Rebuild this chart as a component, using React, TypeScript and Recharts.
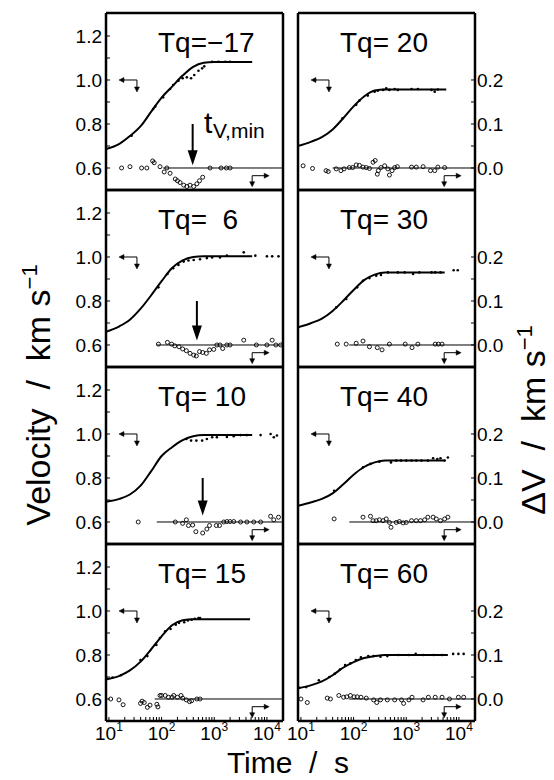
import React from "react";
import { ComposedChart, Line, Scatter, XAxis, YAxis, ReferenceDot, ReferenceLine } from "recharts";

type Pair = [number, number];

const FONT = "'Liberation Sans', Arial, Helvetica, sans-serif";

// axes
const timeDomain: [number, number] = [8.8, 20200];
const timeTicks = [10, 20, 30, 40, 50, 60, 70, 80, 90, 100, 200, 300, 400, 500, 600, 700, 800, 900,
  1000, 2000, 3000, 4000, 5000, 6000, 7000, 8000, 9000, 10000];
const velDomain: [number, number] = [0.5, 1.3045];
const velTicks = [0.6, 0.7, 0.8, 0.9, 1.0, 1.1, 1.2];
const velLabelTicks = [0.6, 0.8, 1.0, 1.2];
const dvDomain: [number, number] = [-0.05, 0.35225];
const dvTicks = [0, 0.05, 0.1, 0.15, 0.2];
const dvLabelTicks = [0, 0.1, 0.2];

const panelLabels = ["Tq=\u221217", "Tq= 20", "Tq=  6", "Tq= 30", "Tq= 10", "Tq= 40", "Tq= 15", "Tq= 60"];

// Tq = -17
const curveM17: Pair[] = [[8.8, 0.686], [15.8, 0.71], [25, 0.745], [40, 0.79], [63, 0.855], [100, 0.92], [158, 0.97], [251, 1.02], [398, 1.06], [631, 1.078], [1000, 1.082], [5250, 1.082]];
const velM17: Pair[] = [[26.9, 0.747], [69.2, 0.868], [75.9, 0.88], [107, 0.921], [145, 0.959], [166, 0.977], [209, 0.997], [251, 1.008], [302, 1.012], [363, 1.008], [417, 1.023], [501, 1.042], [589, 1.053], [646, 1.062], [912, 1.083], [1202, 1.083], [1622, 1.083], [1995, 1.083]];
const dvM17: Pair[] = [[17.4, 0.0], [25.1, 0.003], [41.7, 0.0], [52.5, 0.0], [67.6, 0.016], [72.4, 0.012], [93.3, 0.003], [112, -0.009], [126, 0.0], [145, -0.012], [182, -0.025], [200, -0.029], [224, -0.033], [263, -0.039], [302, -0.042], [347, -0.039], [407, -0.042], [468, -0.036], [525, -0.029], [603, -0.021], [832, 0.0], [1349, 0.0], [1698, 0.0], [1995, 0.0]];

// Tq = 20
const curve20: Pair[] = [[8.8, 0.70], [15.8, 0.72], [25, 0.74], [40, 0.775], [63, 0.825], [100, 0.88], [158, 0.925], [251, 0.952], [398, 0.957], [5750, 0.957]];
const vel20: Pair[] = [[61.7, 0.826], [112, 0.887], [129, 0.906], [186, 0.929], [251, 0.947], [288, 0.951], [363, 0.955], [417, 0.962], [479, 0.955], [603, 0.959], [692, 0.955], [1259, 0.959], [1660, 0.959], [3020, 0.955], [3467, 0.947], [3981, 0.957]];
const dv20: Pair[] = [[11, 0.005], [16.6, -0.001], [30, -0.006], [33, -0.008], [46.8, -0.002], [57.5, -0.006], [66, -0.002], [83, 0.001], [96, 0.001], [112, 0.007], [129, 0.006], [151, 0.002], [174, 0.001], [200, -0.001], [234, 0.013], [257, 0.017], [282, -0.014], [295, -0.006], [331, 0.001], [389, 0.005], [447, -0.002], [479, -0.016], [537, -0.006], [603, 0.001], [676, 0.003], [1259, 0.002], [1549, 0.002], [2089, 0.003], [2884, -0.006], [3467, -0.006], [3981, 0.002], [5370, 0.001]];

// Tq = 6
const curve6: Pair[] = [[8.8, 0.66], [15.8, 0.685], [25, 0.715], [40, 0.765], [63, 0.825], [100, 0.89], [158, 0.95], [251, 0.985], [398, 1.0], [631, 1.003], [5250, 1.003]];
const vel6: Pair[] = [[87, 0.862], [129, 0.923], [166, 0.949], [209, 0.964], [263, 0.979], [324, 0.984], [407, 0.986], [537, 0.99], [724, 0.995], [912, 0.998], [1288, 0.998], [1738, 1.006], [3631, 1.021], [6026, 1.006], [10000, 1.003], [12589, 1.003], [16596, 1.003]];
const dv6: Pair[] = [[87, 0.002], [129, 0.006], [155, 0.002], [178, -0.002], [214, -0.004], [251, -0.009], [295, -0.013], [347, -0.019], [407, -0.023], [457, -0.025], [525, -0.015], [603, -0.017], [708, -0.019], [813, -0.011], [977, -0.01], [1122, 0.0], [1288, 0.0], [1445, -0.008], [1738, 0.0], [1995, 0.0], [3631, 0.011], [6310, 0.0], [10000, 0.0], [12589, 0.011], [14791, 0.0], [18197, 0.0]];

// Tq = 30
const curve30: Pair[] = [[8.8, 0.68], [15.8, 0.70], [25, 0.72], [40, 0.755], [63, 0.80], [100, 0.85], [158, 0.895], [251, 0.92], [398, 0.93], [5370, 0.93]];
const vel30: Pair[] = [[46.8, 0.771], [72.4, 0.809], [117, 0.862], [151, 0.892], [200, 0.904], [269, 0.915], [331, 0.918], [447, 0.93], [692, 0.93], [933, 0.93], [1349, 0.923], [1778, 0.93], [3020, 0.93], [3548, 0.93], [4467, 0.93], [7943, 0.94], [9500, 0.94]];
const dv30: Pair[] = [[49, 0.002], [72.4, 0.002], [112, 0.004], [151, 0.009], [200, -0.004], [282, -0.006], [347, -0.011], [479, 0.002], [955, 0.002], [1288, -0.006], [1660, 0.002], [3548, 0.002], [4074, 0.002], [4786, 0.002]];

// Tq = 10
const curve10: Pair[] = [[8.8, 0.692], [15.8, 0.705], [25, 0.725], [40, 0.765], [63, 0.83], [100, 0.90], [158, 0.94], [251, 0.972], [398, 0.99], [631, 0.995], [5250, 0.995]];
const vel10: Pair[] = [[295, 0.977], [363, 0.97], [457, 0.97], [589, 0.97], [724, 0.977], [912, 0.985], [1122, 0.985], [1738, 0.986], [2344, 0.99], [3162, 0.995], [4169, 0.995], [7586, 0.995], [11749, 1.0], [13490, 0.985], [15488, 0.993]];
const dv10: Pair[] = [[36, 0.0], [182, 0.0], [251, -0.003], [295, 0.005], [324, -0.008], [389, -0.007], [447, -0.022], [603, -0.025], [724, -0.016], [813, -0.008], [1096, -0.008], [1259, -0.008], [1514, 0.0], [1738, 0.001], [1995, 0.001], [2344, 0.001], [3162, 0.0], [4169, 0.0], [5623, 0.0], [7586, 0.0], [11749, 0.013], [13490, 0.005], [16596, 0.011]];

// Tq = 40
const curve40: Pair[] = [[8.8, 0.674], [15.8, 0.69], [25, 0.705], [40, 0.73], [63, 0.77], [100, 0.815], [158, 0.85], [251, 0.871], [398, 0.879], [5370, 0.879]];
const vel40: Pair[] = [[42.7, 0.742], [151, 0.849], [209, 0.864], [309, 0.874], [513, 0.871], [646, 0.879], [794, 0.879], [1000, 0.879], [1259, 0.879], [1549, 0.879], [1950, 0.879], [2570, 0.879], [3236, 0.89], [3890, 0.886], [4467, 0.89], [5370, 0.879], [6166, 0.893]];
const dv40: Pair[] = [[42.7, 0.007], [151, 0.011], [209, 0.013], [234, 0.003], [269, 0.003], [309, 0.005], [363, 0.003], [417, 0.007], [479, -0.001], [513, -0.012], [646, -0.001], [741, 0.001], [871, -0.002], [1000, -0.001], [1259, 0.003], [1549, 0.003], [1862, 0.003], [2239, 0.005], [2570, 0.011], [3236, 0.011], [3715, 0.007], [4467, 0.003], [5370, 0.007], [6166, 0.011]];

// Tq = 15
const curve15: Pair[] = [[8.8, 0.689], [15.8, 0.705], [25, 0.73], [40, 0.77], [63, 0.825], [100, 0.885], [158, 0.935], [251, 0.958], [398, 0.963], [4786, 0.963]];
const vel15: Pair[] = [[9.3, 0.692], [11.7, 0.697], [17, 0.708], [39.8, 0.777], [53.7, 0.795], [79.4, 0.846], [93.3, 0.877], [117, 0.908], [148, 0.918], [186, 0.938], [214, 0.946], [269, 0.949], [316, 0.957], [372, 0.96], [427, 0.965], [501, 0.968], [537, 0.968]];
const dv15: Pair[] = [[10.8, 0.0], [15.5, -0.002], [18.6, -0.013], [39.8, -0.01], [42.7, -0.005], [46.8, -0.008], [53.7, -0.019], [60.3, -0.014], [81.3, -0.012], [85.1, -0.018], [93.3, 0.008], [100, 0.008], [117, 0.008], [135, 0.004], [158, 0.004], [170, 0.008], [200, 0.004], [234, 0.008], [251, 0.002], [295, -0.002], [339, -0.006], [372, -0.004], [468, 0.0], [537, 0.0]];

// Tq = 60
const curve60: Pair[] = [[8.8, 0.649], [15.8, 0.663], [25, 0.68], [40, 0.708], [63, 0.742], [100, 0.768], [158, 0.786], [251, 0.795], [398, 0.80], [6166, 0.80]];
const vel60: Pair[] = [[9.3, 0.651], [12.6, 0.654], [21.9, 0.685], [34.7, 0.70], [43.7, 0.715], [55, 0.734], [69, 0.754], [87, 0.762], [110, 0.777], [138, 0.789], [190, 0.795], [240, 0.795], [324, 0.792], [437, 0.795], [708, 0.80], [1122, 0.80], [1514, 0.805], [2089, 0.80], [3311, 0.80], [4786, 0.80], [7762, 0.805], [9772, 0.805], [12303, 0.805]];
const dv60: Pair[] = [[10, 0.0], [13.2, -0.008], [31.6, 0.002], [36.3, 0.0], [52.5, 0.008], [64.6, 0.004], [74.1, 0.005], [87, 0.008], [102, 0.005], [117, 0.005], [138, 0.004], [174, 0.002], [240, -0.002], [275, -0.008], [324, -0.002], [437, -0.002], [603, -0.002], [813, -0.002], [891, -0.01], [1122, -0.002], [1288, 0.004], [2089, -0.002], [2630, 0.004], [3548, 0.004], [4786, 0.004], [6607, 0.0], [9772, 0.004], [12303, 0.004]];

// start of the dV = 0 reference line, and t(V,min) arrows
const zeroFrom = [107, 40, 81, 83, 81, 83, 74, 81];
const tMin: (number | null)[] = [389, null, 468, null, 603, null, null, null];
const tMinTip: (number | null)[] = [0.612, null, 0.62, null, 0.63, null, null, null];

// legend arrows anchor (time, velocity)
const velArrowAt = { t: 15.5, v: 1.0 };
const dvArrowAt = { t: 5250, v: 0.565 };

const curves = [curveM17, curve20, curve6, curve30, curve10, curve40, curve15, curve60];
const vels = [velM17, vel20, vel6, vel30, vel10, vel40, vel15, vel60];
const dvs = [dvM17, dv20, dv6, dv30, dv10, dv40, dv15, dv60];

const ROW_TOPS = [13, 190, 367, 544];
const PLOT = 177;

const rows = (pairs: Pair[], key: string) => pairs.map(([t, y]) => ({ t, [key]: y }));

const SmallDot = (props: any) => <circle cx={props.cx} cy={props.cy} r={1.3} fill="#000" />;
const OpenDot = (props: any) => <circle cx={props.cx} cy={props.cy} r={2} fill="none" stroke="#000" strokeWidth={0.9} />;

const VelArrow = (props: any) => {
  const { cx, cy } = props;
  return (
    <g stroke="#000" strokeWidth={1} fill="#000">
      <line x1={cx + 2} y1={cy} x2={cx + 18} y2={cy} />
      <line x1={cx + 18} y1={cy} x2={cx + 18} y2={cy + 9} />
      <polygon points={`${cx},${cy} ${cx + 5},${cy - 2.5} ${cx + 5},${cy + 2.5}`} strokeWidth={0.5} />
      <polygon points={`${cx + 18},${cy + 12} ${cx + 15.5},${cy + 7} ${cx + 20.5},${cy + 7}`} strokeWidth={0.5} />
    </g>
  );
};

const DvArrow = (props: any) => {
  const { cx, cy } = props;
  return (
    <g stroke="#000" strokeWidth={1} fill="#000">
      <line x1={cx} y1={cy} x2={cx} y2={cy + 8} />
      <line x1={cx} y1={cy} x2={cx + 14} y2={cy} />
      <polygon points={`${cx},${cy + 11} ${cx - 2.5},${cy + 6} ${cx + 2.5},${cy + 6}`} strokeWidth={0.5} />
      <polygon points={`${cx + 17},${cy} ${cx + 12},${cy - 2.5} ${cx + 12},${cy + 2.5}`} strokeWidth={0.5} />
    </g>
  );
};

const TminArrow = (props: any) => {
  const { x1, y1, x2, y2 } = props;
  const head = 15;
  return (
    <g>
      <line x1={x1} y1={y1} x2={x2} y2={y2 - head + 2} stroke="#000" strokeWidth={2} />
      <polygon points={`${x2 - 5},${y2 - head} ${x2 + 5},${y2 - head} ${x2},${y2}`} fill="#000" />
    </g>
  );
};

const PowTick = (props: any) => {
  const { x, y, payload } = props;
  const e = Math.log10(payload.value);
  if (Math.abs(e - Math.round(e)) > 1e-6) return <g />;
  return (
    <text x={x} y={y + 19} textAnchor="middle" fontFamily={FONT} fontSize={19} fill="#000">
      10<tspan dy={-9} fontSize={12}>{Math.round(e)}</tspan>
    </text>
  );
};

const axisLine = { stroke: "#000", strokeWidth: 2.5 };
const tickLine = { stroke: "#000", strokeWidth: 1 };

function Panel({ i }: { i: number }) {
  const col = i % 2;
  const row = Math.floor(i / 2);
  const isLeft = col === 0;
  const isBottom = row === 3;
  const leftW = isLeft ? 106 : 22;
  const rightW = isLeft ? 22 : 79;
  const botH = isBottom ? 40 : 10;
  const width = leftW + PLOT + rightW;
  const height = 10 + PLOT + botH;
  const x0 = isLeft ? 0 : 298 - leftW;
  const y0 = ROW_TOPS[row] - 10;
  const zero = [{ t: zeroFrom[i], dv: 0 }, { t: timeDomain[1], dv: 0 }];
  const tm = tMin[i];

  return (
    <div style={{ position: "absolute", left: x0, top: y0, width, height }}>
      <ComposedChart width={width} height={height} margin={{ top: 0, right: 0, bottom: 0, left: 0 }}>
        <XAxis xAxisId="b" dataKey="t" type="number" scale="log" domain={timeDomain} allowDataOverflow
          ticks={timeTicks} interval={0} orientation="bottom" height={botH}
          tickSize={-4} tickMargin={4} axisLine={axisLine} tickLine={tickLine}
          tick={isBottom ? <PowTick /> : false} />
        <XAxis xAxisId="top" dataKey="t" type="number" scale="log" domain={timeDomain} allowDataOverflow
          ticks={timeTicks} interval={0} orientation="top" height={10}
          tickSize={-4} axisLine={axisLine} tickLine={tickLine} tick={false} />
        <YAxis yAxisId="v" dataKey="v" type="number" domain={velDomain} allowDataOverflow
          ticks={velTicks} interval={0} orientation="left" width={leftW}
          tickSize={-4} tickMargin={8} axisLine={axisLine} tickLine={tickLine}
          tick={isLeft ? { fill: "#000", fontSize: 19, fontFamily: FONT } : false}
          tickFormatter={(v: number) => (velLabelTicks.some((m) => Math.abs(m - v) < 1e-6) ? v.toFixed(1) : "")} />
        <YAxis yAxisId="dv" dataKey="dv" type="number" domain={dvDomain} allowDataOverflow
          ticks={dvTicks} interval={0} orientation="right" width={rightW}
          tickSize={-4} tickMargin={6} axisLine={axisLine} tickLine={tickLine}
          tick={isLeft ? false : { fill: "#000", fontSize: 19, fontFamily: FONT }}
          tickFormatter={(v: number) => (dvLabelTicks.some((m) => Math.abs(m - v) < 1e-6) ? v.toFixed(1) : "")} />

        <Line xAxisId="b" yAxisId="dv" data={zero} dataKey="dv" stroke="#000" strokeWidth={1}
          dot={false} isAnimationActive={false} />
        <Line xAxisId="b" yAxisId="v" data={rows(curves[i], "v")} dataKey="v" type="monotone"
          stroke="#000" strokeWidth={2} dot={false} isAnimationActive={false} />
        <Scatter xAxisId="b" yAxisId="v" data={rows(vels[i], "v")} dataKey="v" shape={SmallDot}
          isAnimationActive={false} />
        <Scatter xAxisId="b" yAxisId="dv" data={rows(dvs[i], "dv")} dataKey="dv" shape={OpenDot}
          isAnimationActive={false} />

        <ReferenceDot xAxisId="b" yAxisId="v" x={velArrowAt.t} y={velArrowAt.v} shape={VelArrow} />
        <ReferenceDot xAxisId="b" yAxisId="v" x={dvArrowAt.t} y={dvArrowAt.v} shape={DvArrow} />
        {tm !== null && (
          <ReferenceLine xAxisId="b" yAxisId="v"
            segment={[{ x: tm, y: 0.8 }, { x: tm, y: tMinTip[i] as number }]} shape={TminArrow} />
        )}
      </ComposedChart>
    </div>
  );
}

export default function App() {
  return (
    <div style={{ position: "absolute", left: 0, top: 0, width: 554, height: 780, background: "#fff" }}>
      {panelLabels.map((_, i) => <Panel key={i} i={i} />)}
      <svg width={554} height={780} style={{ position: "absolute", left: 0, top: 0, pointerEvents: "none" }}
        fontFamily={FONT} fill="#000">
        {panelLabels.map((label, i) => (
          <text key={i} x={i % 2 === 0 ? 158 : 340} y={ROW_TOPS[Math.floor(i / 2)] + 39}
            fontSize={28} xmlSpace="preserve" style={{ whiteSpace: "pre" }}>{label}</text>
        ))}
        <text x={204} y={133} fontSize={30}>t</text>
        <text x={213} y={138} fontSize={21}>V,min</text>
        <text transform="translate(50,395) rotate(-90)" textAnchor="middle" fontSize={34}
          xmlSpace="preserve" style={{ whiteSpace: "pre" }}>
          Velocity  /  km s<tspan dy={-13} fontSize={22}>{"\u22121"}</tspan>
        </text>
        <text transform="translate(545,420) rotate(-90)" textAnchor="middle" fontSize={34}
          xmlSpace="preserve" style={{ whiteSpace: "pre" }}>
          {"\u0394V  /  km s"}<tspan dy={-13} fontSize={22}>{"\u22121"}</tspan>
        </text>
        <text x={288} y={773} textAnchor="middle" fontSize={30} xmlSpace="preserve"
          style={{ whiteSpace: "pre" }}>{"Time  /  s"}</text>
      </svg>
    </div>
  );
}
